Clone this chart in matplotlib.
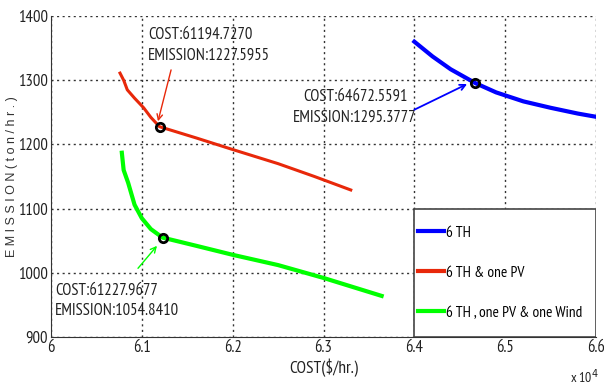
import matplotlib
matplotlib.use("Agg")
import matplotlib.pyplot as plt
from matplotlib.patches import Rectangle

plt.rcParams['font.family'] = ['PT Sans Narrow', 'Archivo Narrow', 'Liberation Sans', 'DejaVu Sans']

# Data (cost in $/hr, emission in ton/hr)
th_cost = [64000, 64200, 64400, 64672.5591, 64900, 65200, 65500, 65800, 66000]
th_em = [1360, 1337, 1317, 1295.3777, 1281, 1267, 1257, 1248, 1243]

pv_cost = [60760, 60800, 60840, 60920, 61020, 61100, 61194.7270, 61600, 62000, 62500, 62900, 63300]
pv_em = [1311, 1300, 1285, 1272, 1257, 1242, 1227.5955, 1210, 1192, 1170, 1150, 1129]

wind_cost = [60780, 60800, 60850, 60920, 61000, 61100, 61227.9677, 61600, 62000, 62500, 63000, 63640]
wind_em = [1187, 1160, 1140, 1106, 1085, 1068, 1054.8410, 1042, 1028, 1012, 992, 964]

marked_cost = [64672.5591, 61194.7270, 61227.9677]
marked_em = [1295.3777, 1227.5955, 1054.8410]

labels = ['6 TH', '6 TH & one PV', '6 TH , one PV & one Wind']
colors = ['#0000ff', '#e8280a', '#00ff00']

fig = plt.figure(figsize=(6.04, 3.89), dpi=100)
ax = fig.add_axes([0.0844, 0.1337, 0.9024, 0.8252])

ax.plot(th_cost, th_em, color=colors[0], lw=3, label=labels[0])
ax.plot(pv_cost, pv_em, color=colors[1], lw=2.2, label=labels[1])
ax.plot(wind_cost, wind_em, color=colors[2], lw=3, label=labels[2])

ax.plot(marked_cost, marked_em, 'o', ls='none', mfc='none', mec='black', mew=2, ms=6, zorder=5)

ax.set_xlim(60000, 66000)
ax.set_ylim(900, 1400)
ax.set_xticks([60000, 61000, 62000, 63000, 64000, 65000, 66000])
ax.set_xticklabels(['6', '6.1', '6.2', '6.3', '6.4', '6.5', '6.6'])
ax.set_yticks([900, 1000, 1100, 1200, 1300, 1400])
ax.grid(True, color='#333333', linestyle=(0, (1.5, 2.5)), lw=1)
for s in ax.spines.values():
    s.set_color('#333333')
ax.spines['top'].set_visible(False)
ax.spines['right'].set_visible(False)
ax.tick_params(length=0, labelsize=12, pad=2, colors='#222222')

ax.set_xlabel('COST($/hr.)', fontsize=12.5, color='#222222', labelpad=2)
fig.text(12 / 604, 1 - 177 / 389, 'E M I S S I O N ( t o n / h r . )', rotation=90,
         ha='center', va='center', fontsize=9, color='#333333', family=['Liberation Sans', 'DejaVu Sans'])
fig.text(570 / 604, 1 - 386 / 389, r'x 10$^4$', fontsize=10, color='#222222', ha='left', va='bottom')

# annotations
txt_kw = dict(fontsize=12, color='#222222', linespacing=1.4, va='center')
ax.text(61068, 1354, 'COST:61194.7270\nEMISSION:1227.5955', ha='left', **txt_kw)
ax.text(63348, 1257.5, 'COST:64672.5591\nEMISSION:1295.3777', ha='center', multialignment='center', **txt_kw)
ax.text(60044, 956, 'COST:61227.9677\nEMISSION:1054.8410', ha='left', **txt_kw)

ax.annotate('', xy=(61178, 1236), xytext=(61322, 1316),
            arrowprops=dict(arrowstyle='->', color=colors[1], lw=1, shrinkA=0, shrinkB=0))
ax.annotate('', xy=(64581, 1294), xytext=(64000, 1254),
            arrowprops=dict(arrowstyle='->', color=colors[0], lw=1.3, shrinkA=0, shrinkB=0))
ax.annotate('', xy=(61167, 1042), xytext=(60958, 1007),
            arrowprops=dict(arrowstyle='->', color=colors[2], lw=1, shrinkA=0, shrinkB=0))

# legend box spanning 6.4-6.6 and 900-1100
ax.add_patch(Rectangle((4 / 6, 0), 2 / 6, 0.4, transform=ax.transAxes, facecolor='white',
                       edgecolor='#444444', lw=1.2, zorder=6))
leg = ax.legend(loc='center left', bbox_to_anchor=(4 / 6 + 0.002, 0, 2 / 6, 0.4), frameon=False,
                fontsize=11, handlelength=1.7, handletextpad=0.1, labelspacing=1.7,
                borderpad=0.2, borderaxespad=0)
leg.set_zorder(7)
for h in leg.legend_handles:
    h.set_linewidth(3)

fig.savefig('out.png', dpi=100)
